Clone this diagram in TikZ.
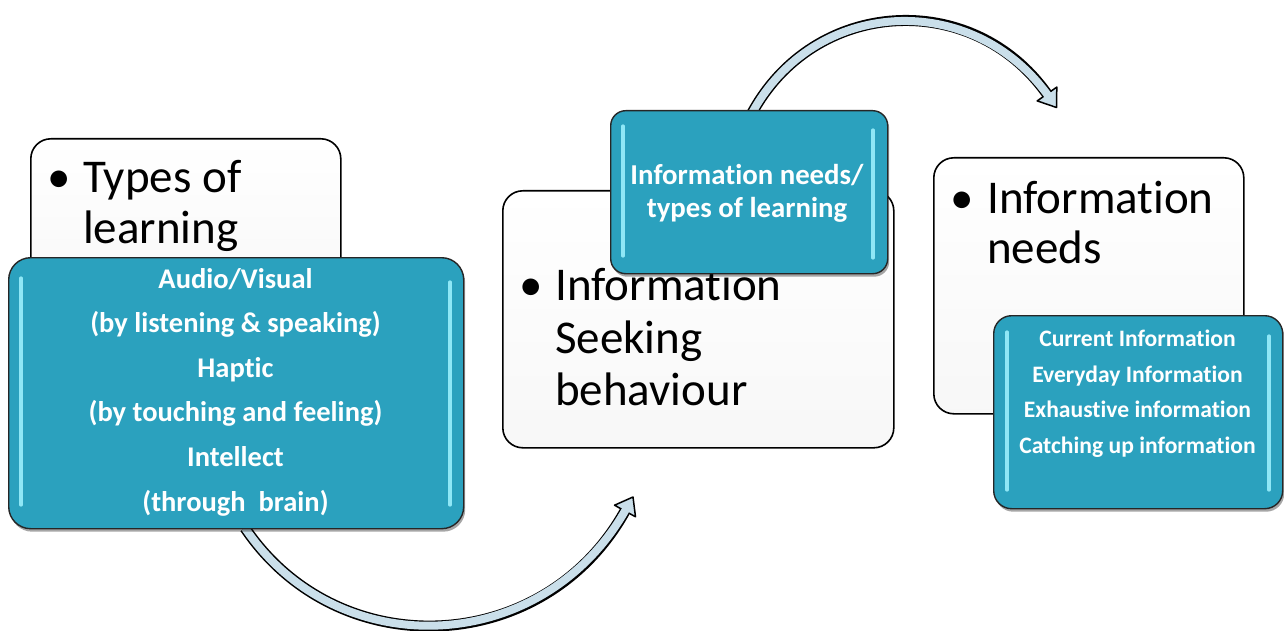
\documentclass[tikz,border=0pt]{standalone}
\usepackage{fontspec}
\setmainfont{Carlito}[Ligatures={NoCommon,NoContextual}]
\usetikzlibrary{shadows}
\definecolor{boxblue}{HTML}{2BA1BE}
\definecolor{arrowfill}{HTML}{CADFEA}
\definecolor{glint}{HTML}{8FE7F6}
\begin{document}
\begin{tikzpicture}[x=1pt,y=-1pt,
  whitebox/.style={draw=black, line width=1.6pt, rounded corners=20pt, top color=white, bottom color=black!3, anchor=north west, inner sep=0pt},
  bluebox/.style={draw=black!85, line width=1.4pt, fill=boxblue, anchor=north west, inner sep=0pt,
     drop shadow={shadow xshift=1.5pt, shadow yshift=-3pt, opacity=0.35, fill=black}},
  glintline/.style={glint, line width=3.2pt, line cap=round},
  bigtext/.style={font=\fontsize{47}{51}\selectfont, anchor=base west, inner sep=0pt, text=black},
  bullettext/.style={font=\fontsize{47}{51}\selectfont, anchor=base west, inner sep=0pt, text=black},
  bluetextA/.style={font=\fontsize{28.5}{32}\selectfont\bfseries, anchor=base, inner sep=0pt, text=white},
  bluetextB/.style={font=\fontsize{28.8}{32}\selectfont\bfseries, anchor=base, inner sep=0pt, text=white},
  bluetextC/.style={font=\fontsize{23.6}{26}\selectfont\bfseries, anchor=base, inner sep=0pt, text=white},
  shaftout/.style={black, line width=11pt},
  shaftin/.style={arrowfill, line width=8pt, shorten >=-4pt},
  headstyle/.style={fill=arrowfill, draw=black, line width=1.5pt, line join=round}
]
\useasboundingbox (0,0) rectangle (1284,631);

% ---------- arrows (behind boxes) ----------
\coordinate (a1s) at (245,528);
\coordinate (a1e) at (625,511);
\coordinate (a1t) at (633,497);
\coordinate (a1w1) at (635.5,516.8);
\coordinate (a1w2) at (614.5,505.2);
\draw[shaftout] (a1s) .. controls (338.1,666) and (544.3,656.6) .. (a1e);
\draw[headstyle] (a1w1) -- (a1t) -- (a1w2) -- cycle;
\draw[shaftin] (a1s) .. controls (338.1,666) and (544.3,656.6) .. (a1e);

\coordinate (a2s) at (751,115);
\coordinate (a2e) at (1047,94);
\coordinate (a2t) at (1056.5,107.5);
\coordinate (a2w1) at (1056.8,87.1);
\coordinate (a2w2) at (1037.2,100.9);
\draw[shaftout] (a2s) .. controls (812.9,-2.5) and (972.5,-11.6) .. (a2e);
\draw[headstyle] (a2w1) -- (a2t) -- (a2w2) -- cycle;
\draw[shaftin] (a2s) .. controls (812.9,-2.5) and (972.5,-11.6) .. (a2e);

% ---------- white boxes ----------
\node[whitebox, minimum width=310pt, minimum height=170pt] (w1) at (30,138) {};
\node[whitebox, minimum width=391pt, minimum height=257pt] (w2) at (502,190) {};
\node[whitebox, minimum width=310pt, minimum height=256pt] (w3) at (933,157) {};

\node[bullettext] (w1b) at (47,193) {•};
\node[bigtext] (w1l1) at (83,193) {Types of};
\node[bigtext] (w1l2) at (83,243) {learning};

\node[bullettext] (w2b) at (519,300) {•};
\node[bigtext] (w2l1) at (555,300) {Information};
\node[bigtext] (w2l2) at (555,353) {Seeking};
\node[bigtext] (w2l3) at (555,405) {behaviour};

\node[bullettext] (w3b) at (950,213) {•};
\node[bigtext] (w3l1) at (987,213) {Information};
\node[bigtext] (w3l2) at (987,263) {needs};

% ---------- blue boxes ----------
\node[bluebox, rounded corners=22pt, minimum width=455pt, minimum height=271pt] (b1) at (8,257) {};
\draw[glintline] (21,278) -- (21,505);
\draw[glintline] (450,282) -- (450,505);
\node[bluetextA] (b1l1) at (235.5,288) {Audio/Visual};
\node[bluetextA] (b1l2) at (235.5,332.5) {(by listening \& speaking)};
\node[bluetextA] (b1l3) at (235.5,377) {Haptic};
\node[bluetextA] (b1l4) at (235.5,421.5) {(by touching and feeling)};
\node[bluetextA] (b1l5) at (235.5,466.5) {Intellect};
\node[bluetextA] (b1l6) at (235.5,511) {(through\ \ brain)};

\node[bluebox, rounded corners=15pt, minimum width=277pt, minimum height=163pt] (b2) at (610,110) {};
\draw[glintline] (623,126) -- (623,256);
\draw[glintline] (873,130) -- (873,258);
\node[bluetextB] (b2l1) at (747,185) {Information needs/};
\node[bluetextB] (b2l2) at (747,217) {types of learning};

\node[bluebox, rounded corners=18pt, minimum width=289pt, minimum height=193pt] (b3) at (993,315) {};
\draw[glintline] (1007,332) -- (1007,490);
\draw[glintline] (1269,336) -- (1269,490);
\node[bluetextC] (b3l1) at (1137.5,346.5) {Current Information};
\node[bluetextC] (b3l2) at (1137.5,382) {Everyday Information};
\node[bluetextC] (b3l3) at (1137.5,417.5) {Exhaustive information};
\node[bluetextC] (b3l4) at (1137.5,453) {Catching up information};
\end{tikzpicture}
\end{document}
